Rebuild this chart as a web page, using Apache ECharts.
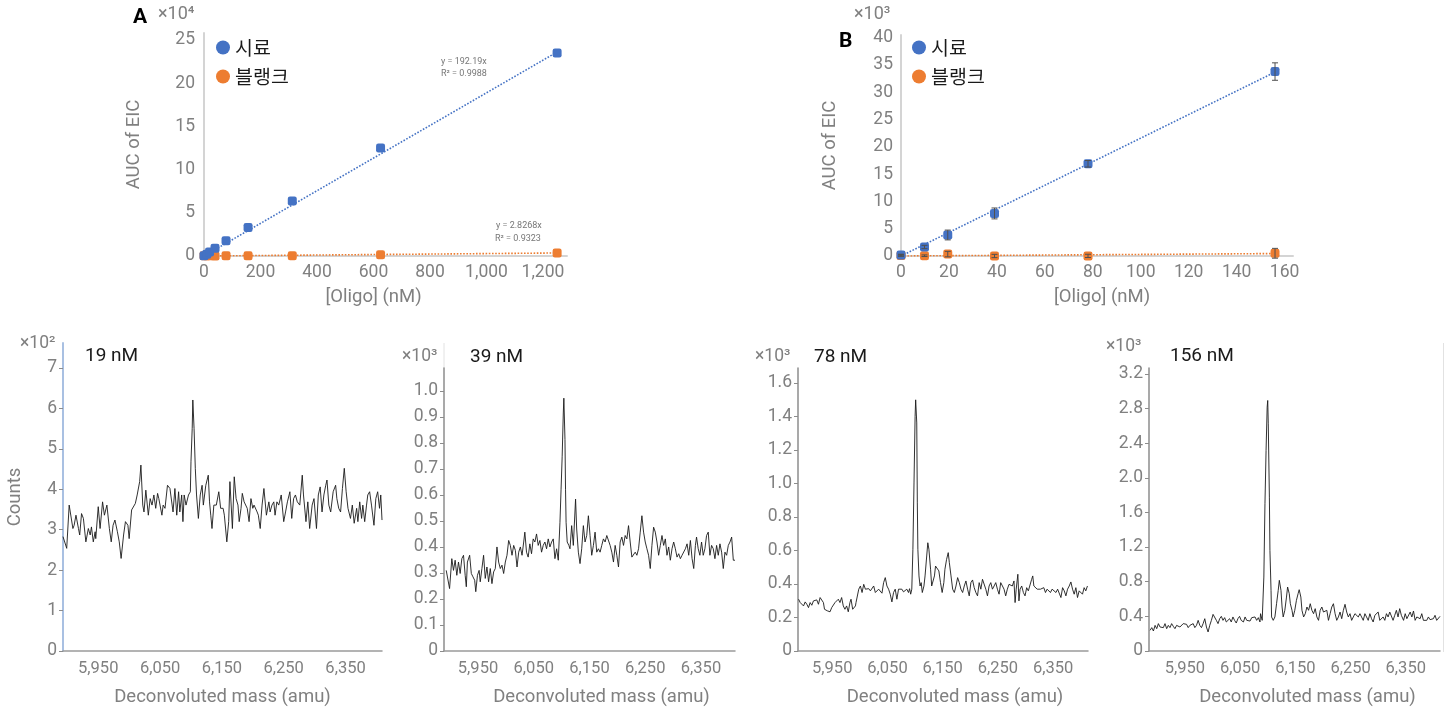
<!DOCTYPE html>
<html><head><meta charset="utf-8">
<script src="https://cdn.jsdelivr.net/npm/echarts@6/dist/echarts.min.js"></script>
<style>html,body{margin:0;padding:0;background:#fff}#c{width:1452px;height:708px}</style>
</head><body><div id="c"></div>
<script>
// ---------- Data ----------
const seriesNames = ['시료', '블랭크'];
// Panel A (x10^4)
const concA = [0, 9.8, 19.5, 39, 78, 156, 312.5, 625, 1250];
const sampleA = [0.02, 0.2, 0.45, 0.89, 1.75, 3.3, 6.35, 12.5, 23.5];
const sampleAerr = [0.02, 0.05, 0.05, 0.08, 0.1, 0.12, 0.15, 0.25, 0.2];
const blankA = [0.03, 0.02, 0.04, 0.01, 0.02, 0.02, 0.04, 0.15, 0.35];
const blankAerr = [0.02, 0.02, 0.02, 0.02, 0.02, 0.02, 0.03, 0.05, 0.06];
const trendAx = [0, 1250];
const trendAsample = [0, 23.6];
const trendAblank = [0, 0.35];
// Panel B (x10^3)
const concB = [0, 9.8, 19.5, 39, 78, 156];
const sampleB = [0.18, 1.65, 3.85, 7.8, 16.9, 33.8];
const sampleBerr = [0.15, 0.3, 0.9, 1.0, 0.6, 1.6];
const blankB = [0.1, 0.05, 0.35, 0.0, 0.02, 0.5];
const blankBerr = [0.15, 0.15, 0.5, 0.3, 0.3, 0.9];
const trendBx = [0, 156];
const trendBsample = [0, 33.7];
const trendBblank = [0, 0.45];
const xTicksSpec = [5950, 6050, 6150, 6250, 6350];
const specLabels = ['19 nM', '39 nM', '78 nM', '156 nM'];
// Spectra: [mass (amu), counts]
const spec19 = [[5893,2.83],[5899,2.54],[5903,3.61],[5909,3.03],[5911,3.11],[5914,3.36],[5918,3.03],[5920,2.87],[5923,3.40],[5926,3.28],[5930,2.70],[5934,3.03],[5937,2.87],[5939,3.07],[5942,2.70],[5945,2.95],[5946,2.78],[5950,3.57],[5953,3.03],[5957,3.69],[5960,3.36],[5964,3.61],[5968,3.03],[5971,2.70],[5974,3.11],[5977,3.24],[5981,2.95],[5984,2.70],[5987,2.29],[5991,2.87],[5994,3.20],[5998,3.11],[6000,2.78],[6004,3.49],[6010,3.65],[6013,3.86],[6017,4.19],[6019,4.60],[6022,3.61],[6024,3.44],[6027,3.98],[6031,3.36],[6034,3.77],[6037,3.61],[6040,3.86],[6043,3.53],[6046,3.90],[6048,3.77],[6053,3.36],[6055,3.61],[6058,3.53],[6062,4.10],[6066,4.02],[6071,3.44],[6074,4.02],[6077,3.36],[6080,3.94],[6082,3.44],[6085,3.86],[6087,3.20],[6089,3.86],[6092,3.61],[6096,3.86],[6099,3.94],[6100,4.68],[6102,5.51],[6103,6.21],[6105,5.51],[6107,4.52],[6109,3.86],[6112,3.28],[6115,3.86],[6118,4.10],[6120,3.61],[6124,4.10],[6128,4.35],[6130,3.69],[6132,3.36],[6134,3.03],[6137,3.61],[6141,3.61],[6145,3.94],[6148,3.53],[6152,3.53],[6154,3.36],[6158,2.70],[6161,3.20],[6163,4.19],[6167,3.03],[6170,4.31],[6173,3.77],[6176,3.61],[6178,3.20],[6181,3.53],[6183,3.90],[6186,3.69],[6189,3.69],[6191,3.53],[6194,3.20],[6197,3.77],[6200,3.53],[6202,3.61],[6207,3.44],[6209,3.36],[6212,3.03],[6215,3.61],[6218,4.02],[6222,3.36],[6226,3.69],[6228,3.44],[6231,3.61],[6234,3.69],[6236,3.36],[6239,3.69],[6242,3.61],[6246,3.86],[6250,3.20],[6253,3.44],[6256,3.69],[6260,3.94],[6263,3.28],[6266,3.77],[6269,3.86],[6272,3.69],[6276,3.61],[6280,4.35],[6282,3.86],[6286,3.20],[6289,3.69],[6292,3.03],[6296,3.61],[6299,3.77],[6303,3.03],[6306,3.86],[6309,4.06],[6312,3.44],[6315,3.86],[6318,4.10],[6320,4.23],[6323,3.61],[6326,3.44],[6330,3.94],[6334,4.10],[6336,3.77],[6339,3.53],[6342,3.44],[6345,4.02],[6348,4.52],[6351,3.94],[6354,3.53],[6358,3.28],[6361,3.61],[6364,3.16],[6368,3.53],[6370,3.20],[6373,3.69],[6376,3.28],[6378,3.61],[6381,3.20],[6384,3.61],[6386,3.86],[6389,3.94],[6392,3.61],[6396,3.11],[6399,3.77],[6402,3.94],[6405,3.53],[6407,3.86],[6409,3.24]];
const spec39 = [[5893,0.310],[5895,0.317],[5899,0.240],[5903,0.355],[5906,0.310],[5909,0.349],[5912,0.291],[5915,0.342],[5918,0.298],[5921,0.355],[5924,0.368],[5927,0.291],[5929,0.247],[5931,0.342],[5935,0.368],[5938,0.298],[5941,0.285],[5944,0.272],[5946,0.228],[5949,0.291],[5952,0.310],[5954,0.266],[5957,0.317],[5960,0.368],[5963,0.279],[5966,0.323],[5969,0.266],[5972,0.317],[5975,0.259],[5978,0.304],[5981,0.317],[5984,0.400],[5987,0.342],[5990,0.317],[5993,0.330],[5996,0.298],[5999,0.342],[6002,0.368],[6005,0.425],[6008,0.406],[6011,0.368],[6014,0.406],[6017,0.387],[6020,0.323],[6023,0.380],[6026,0.400],[6029,0.368],[6032,0.419],[6034,0.457],[6037,0.380],[6040,0.361],[6043,0.412],[6046,0.374],[6049,0.431],[6052,0.419],[6055,0.450],[6058,0.406],[6061,0.425],[6064,0.380],[6067,0.406],[6070,0.419],[6073,0.393],[6076,0.431],[6079,0.400],[6082,0.419],[6085,0.431],[6088,0.355],[6091,0.393],[6094,0.349],[6096,0.342],[6097,0.495],[6099,0.622],[6101,0.749],[6103,0.915],[6104,0.972],[6106,0.813],[6107,0.622],[6108,0.495],[6110,0.419],[6113,0.406],[6115,0.393],[6118,0.482],[6121,0.406],[6125,0.584],[6127,0.469],[6130,0.380],[6133,0.336],[6136,0.393],[6139,0.482],[6142,0.419],[6145,0.444],[6148,0.520],[6151,0.444],[6154,0.368],[6157,0.406],[6160,0.457],[6163,0.380],[6166,0.393],[6169,0.380],[6172,0.406],[6175,0.431],[6178,0.419],[6181,0.444],[6184,0.450],[6187,0.406],[6190,0.380],[6193,0.342],[6196,0.406],[6199,0.368],[6202,0.323],[6205,0.419],[6208,0.438],[6211,0.406],[6214,0.444],[6217,0.431],[6220,0.482],[6223,0.419],[6226,0.361],[6229,0.355],[6232,0.380],[6235,0.368],[6238,0.393],[6241,0.457],[6244,0.520],[6247,0.457],[6250,0.419],[6253,0.393],[6256,0.368],[6259,0.317],[6262,0.406],[6265,0.476],[6268,0.457],[6271,0.419],[6274,0.368],[6277,0.406],[6280,0.444],[6283,0.406],[6286,0.431],[6289,0.368],[6292,0.400],[6295,0.349],[6298,0.393],[6301,0.419],[6304,0.393],[6307,0.361],[6310,0.374],[6313,0.355],[6316,0.368],[6319,0.374],[6322,0.393],[6325,0.412],[6328,0.368],[6331,0.425],[6334,0.355],[6337,0.317],[6340,0.406],[6342,0.438],[6345,0.393],[6348,0.368],[6351,0.419],[6354,0.368],[6357,0.393],[6360,0.444],[6363,0.457],[6366,0.368],[6369,0.406],[6372,0.393],[6375,0.355],[6378,0.406],[6381,0.368],[6384,0.412],[6387,0.380],[6390,0.317],[6393,0.380],[6396,0.368],[6399,0.406],[6402,0.419],[6405,0.438],[6408,0.349],[6411,0.349]];
const spec78 = [[5889,0.309],[5892,0.289],[5895,0.299],[5898,0.269],[5901,0.293],[5904,0.279],[5907,0.259],[5910,0.289],[5913,0.273],[5916,0.299],[5919,0.289],[5922,0.305],[5925,0.279],[5928,0.319],[5931,0.329],[5934,0.289],[5936,0.249],[5938,0.259],[5941,0.240],[5943,0.249],[5946,0.234],[5949,0.259],[5952,0.249],[5955,0.289],[5958,0.279],[5961,0.309],[5964,0.289],[5967,0.319],[5970,0.269],[5973,0.249],[5976,0.269],[5979,0.234],[5982,0.289],[5984,0.309],[5987,0.249],[5989,0.240],[5992,0.269],[5993,0.289],[5995,0.289],[5998,0.369],[6001,0.388],[6004,0.349],[6007,0.398],[6010,0.369],[6013,0.363],[6016,0.372],[6019,0.359],[6022,0.369],[6025,0.388],[6028,0.349],[6031,0.339],[6034,0.369],[6037,0.378],[6040,0.345],[6043,0.408],[6046,0.438],[6049,0.388],[6052,0.369],[6055,0.339],[6058,0.293],[6061,0.349],[6064,0.369],[6067,0.309],[6070,0.369],[6073,0.359],[6076,0.369],[6079,0.353],[6082,0.359],[6085,0.369],[6088,0.349],[6090,0.372],[6092,0.339],[6094,0.369],[6096,0.607],[6098,1.003],[6100,1.400],[6101,1.499],[6103,1.361],[6104,0.884],[6105,0.607],[6107,0.448],[6109,0.388],[6111,0.408],[6113,0.349],[6116,0.388],[6118,0.448],[6121,0.567],[6123,0.646],[6125,0.607],[6128,0.488],[6130,0.388],[6133,0.388],[6135,0.448],[6137,0.507],[6140,0.517],[6143,0.478],[6146,0.408],[6149,0.349],[6152,0.408],[6154,0.488],[6157,0.547],[6160,0.587],[6162,0.527],[6165,0.448],[6168,0.369],[6171,0.349],[6174,0.388],[6177,0.438],[6180,0.408],[6183,0.369],[6186,0.349],[6189,0.388],[6192,0.418],[6195,0.369],[6198,0.329],[6201,0.408],[6204,0.424],[6207,0.378],[6210,0.349],[6213,0.329],[6216,0.408],[6219,0.369],[6222,0.428],[6225,0.418],[6228,0.369],[6231,0.329],[6234,0.388],[6237,0.408],[6240,0.369],[6243,0.388],[6246,0.408],[6249,0.369],[6252,0.339],[6255,0.408],[6258,0.418],[6261,0.369],[6264,0.329],[6267,0.369],[6270,0.398],[6273,0.408],[6276,0.388],[6279,0.418],[6281,0.289],[6283,0.369],[6286,0.458],[6288,0.299],[6290,0.369],[6293,0.388],[6296,0.349],[6299,0.329],[6302,0.378],[6305,0.359],[6308,0.349],[6311,0.428],[6313,0.448],[6315,0.388],[6318,0.398],[6321,0.369],[6324,0.378],[6327,0.369],[6330,0.359],[6333,0.378],[6336,0.349],[6339,0.369],[6342,0.378],[6345,0.349],[6348,0.369],[6351,0.378],[6355,0.349],[6358,0.369],[6361,0.378],[6364,0.319],[6367,0.378],[6370,0.359],[6373,0.329],[6376,0.369],[6379,0.388],[6382,0.412],[6385,0.369],[6388,0.339],[6391,0.378],[6394,0.319],[6397,0.359],[6400,0.369],[6403,0.339],[6406,0.378],[6409,0.359],[6412,0.388]];
const spec156 = [[5887,0.239],[5890,0.270],[5893,0.231],[5896,0.296],[5899,0.258],[5902,0.316],[5905,0.277],[5908,0.296],[5911,0.270],[5914,0.316],[5917,0.258],[5920,0.296],[5923,0.270],[5926,0.316],[5929,0.285],[5932,0.258],[5935,0.296],[5938,0.316],[5941,0.277],[5944,0.270],[5947,0.316],[5950,0.335],[5953,0.308],[5956,0.270],[5959,0.296],[5962,0.277],[5965,0.316],[5968,0.270],[5971,0.296],[5974,0.354],[5977,0.296],[5980,0.270],[5983,0.316],[5986,0.373],[5989,0.277],[5992,0.220],[5995,0.296],[5998,0.354],[6001,0.423],[6004,0.400],[6007,0.354],[6010,0.316],[6013,0.373],[6016,0.400],[6019,0.354],[6022,0.385],[6025,0.335],[6028,0.316],[6031,0.373],[6034,0.335],[6037,0.393],[6040,0.354],[6043,0.323],[6046,0.373],[6049,0.400],[6052,0.354],[6056,0.335],[6059,0.393],[6062,0.354],[6065,0.373],[6068,0.346],[6071,0.385],[6074,0.362],[6077,0.393],[6080,0.354],[6083,0.385],[6086,0.335],[6087,0.431],[6090,0.354],[6092,0.335],[6093,0.854],[6095,1.700],[6097,2.316],[6099,2.816],[6100,2.893],[6101,2.623],[6103,1.777],[6104,1.162],[6106,0.700],[6107,0.393],[6110,0.354],[6113,0.393],[6116,0.546],[6119,0.700],[6121,0.816],[6124,0.700],[6126,0.508],[6128,0.393],[6131,0.470],[6134,0.623],[6136,0.739],[6139,0.662],[6141,0.546],[6144,0.470],[6146,0.393],[6149,0.470],[6152,0.585],[6155,0.662],[6157,0.708],[6160,0.623],[6162,0.470],[6165,0.393],[6168,0.431],[6171,0.508],[6174,0.470],[6177,0.546],[6180,0.470],[6183,0.431],[6186,0.489],[6189,0.393],[6192,0.354],[6195,0.470],[6198,0.508],[6201,0.450],[6204,0.431],[6207,0.470],[6210,0.354],[6213,0.431],[6216,0.508],[6219,0.546],[6222,0.431],[6225,0.354],[6228,0.393],[6231,0.450],[6234,0.373],[6237,0.470],[6240,0.539],[6243,0.450],[6246,0.393],[6249,0.431],[6252,0.354],[6255,0.393],[6258,0.431],[6261,0.450],[6264,0.393],[6267,0.431],[6270,0.393],[6273,0.354],[6276,0.431],[6279,0.393],[6282,0.354],[6285,0.431],[6288,0.373],[6291,0.335],[6294,0.412],[6297,0.393],[6300,0.450],[6303,0.354],[6306,0.335],[6309,0.393],[6312,0.354],[6315,0.431],[6318,0.393],[6321,0.450],[6324,0.431],[6327,0.354],[6330,0.412],[6333,0.470],[6336,0.393],[6339,0.489],[6342,0.412],[6346,0.354],[6349,0.431],[6352,0.373],[6355,0.393],[6358,0.450],[6361,0.393],[6364,0.462],[6367,0.354],[6370,0.393],[6373,0.412],[6376,0.373],[6379,0.431],[6382,0.354],[6385,0.373],[6388,0.354],[6391,0.393],[6394,0.362],[6397,0.354],[6400,0.373],[6403,0.412],[6406,0.354],[6409,0.373],[6412,0.400]];

// ---------- Styling ----------
const FONT = 'Roboto, "Noto Sans", sans-serif';
const KFONT = '"Noto Sans CJK KR", Roboto, sans-serif';
const GREY = '#808080';
const BLUE = '#4472C4';
const ORANGE = '#ED7D31';
const comma = v => String(v).replace(/\B(?=(\d{3})+(?!\d))/g, ',');
const pairs = (xs, ys) => xs.map((x, i) => [x, ys[i]]);
const errData = (xs, ys, es) => xs.map((x, i) => [x, ys[i] - es[i], ys[i] + es[i]]);

function errRender(params, api) {
  const x = api.value(0);
  const p1 = api.coord([x, api.value(1)]);
  const p2 = api.coord([x, api.value(2)]);
  const w = 3;
  const st = { stroke: '#505050', lineWidth: 1 };
  return { type: 'group', children: [
    { type: 'line', shape: { x1: p1[0], y1: p1[1], x2: p2[0], y2: p2[1] }, style: st },
    { type: 'line', shape: { x1: p1[0] - w, y1: p1[1], x2: p1[0] + w, y2: p1[1] }, style: st },
    { type: 'line', shape: { x1: p2[0] - w, y1: p2[1], x2: p2[0] + w, y2: p2[1] }, style: st }
  ]};
}

const grids = [
  { left: 204, top: 33, width: 363, height: 223 },
  { left: 901, top: 35, width: 392, height: 221 },
  { left: 63, top: 343, width: 319, height: 308 },
  { left: 444, top: 368, width: 291, height: 285 },
  { left: 798, top: 368, width: 290, height: 284 },
  { left: 1149, top: 368, width: 291, height: 284 }
];

const topAxisLine = { show: true, lineStyle: { color: '#d4d4d4', width: 2 } };
const topLabel = { color: GREY, fontSize: 17.5, fontFamily: FONT };
const nameStyle = (pad) => ({ color: GREY, fontSize: 18.5, fontFamily: FONT, padding: pad || [0, 0, 0, 0] });

const xAxes = [
  { gridIndex: 0, type: 'value', min: 0, max: 1285, interval: 200,
    axisLine: topAxisLine, axisTick: { show: false }, splitLine: { show: false },
    axisLabel: Object.assign({ formatter: v => comma(v), showMaxLabel: false, margin: 8 }, topLabel),
    name: '[Oligo] (nM)', nameLocation: 'middle', nameGap: 32, nameTextStyle: nameStyle([0, 24, 0, 0]) },
  { gridIndex: 1, type: 'value', min: 0, max: 163.5, interval: 20,
    axisLine: topAxisLine, axisTick: { show: false }, splitLine: { show: false },
    axisLabel: Object.assign({ showMaxLabel: false, margin: 8 }, topLabel),
    name: '[Oligo] (nM)', nameLocation: 'middle', nameGap: 32, nameTextStyle: nameStyle([0, 0, 0, 10]) }
];
const yAxes = [
  { gridIndex: 0, type: 'value', min: 0, max: 25.8, interval: 5,
    axisLine: topAxisLine, axisTick: { show: false }, splitLine: { show: false },
    axisLabel: Object.assign({ showMaxLabel: false, margin: 9 }, topLabel),
    name: 'AUC of EIC', nameLocation: 'middle', nameGap: 42, nameTextStyle: nameStyle([0, 0, 18, 0]) },
  { gridIndex: 1, type: 'value', min: 0, max: 40.5, interval: 5,
    axisLine: topAxisLine, axisTick: { show: false }, splitLine: { show: false },
    axisLabel: Object.assign({ showMaxLabel: false, margin: 8 }, topLabel),
    name: 'AUC of EIC', nameLocation: 'middle', nameGap: 43, nameTextStyle: nameStyle([0, 0, 18, 0]) }
];

const specDefs = [
  { data: spec19, xmin: 5893, xmax: 6409, ymax: 7.62, interval: 1, dec: 0, yColor: '#a9c0e2', yW: 2, namePad: [0, 0, 0, 0] },
  { data: spec39, xmin: 5889, xmax: 6411, ymax: 1.088, interval: 0.1, dec: 1, yColor: '#8c8c8c', yW: 1.5, namePad: [0, 0, 0, 24] },
  { data: spec78, xmin: 5888, xmax: 6413, ymax: 1.689, interval: 0.2, dec: 1, yColor: '#8c8c8c', yW: 1.5, namePad: [0, 0, 0, 24] },
  { data: spec156, xmin: 5885, xmax: 6412, ymax: 3.268, interval: 0.4, dec: 1, yColor: '#8c8c8c', yW: 1.5, namePad: [0, 0, 0, 26] }
];

const series = [];
specDefs.forEach((d, i) => {
  const g = i + 2;
  xAxes.push({ gridIndex: g, type: 'value', min: d.xmin, max: d.xmax,
    axisLine: { show: true, onZero: false, lineStyle: { color: '#9a9a9a', width: 1.5 } },
    axisTick: { show: false }, splitLine: { show: false },
    axisLabel: { customValues: xTicksSpec, formatter: v => comma(v), color: GREY, fontSize: 16.5, fontFamily: FONT, margin: 9 },
    name: 'Deconvoluted mass (amu)', nameLocation: 'middle', nameGap: 37, nameTextStyle: nameStyle(d.namePad) });
  yAxes.push({ gridIndex: g, type: 'value', min: 0, max: d.ymax, interval: d.interval,
    axisLine: { show: true, lineStyle: { color: d.yColor, width: d.yW } },
    axisTick: { show: true, length: 4, lineStyle: { color: '#8c8c8c' } }, splitLine: { show: false },
    axisLabel: { showMaxLabel: false, color: GREY, fontSize: 17.5, fontFamily: FONT, margin: 6,
      formatter: v => (v === 0 ? '0' : v.toFixed(d.dec)) },
    name: i === 0 ? 'Counts' : '', nameLocation: 'middle', nameGap: 38, nameTextStyle: nameStyle() });
  series.push({ type: 'line', name: 'spectrum ' + specLabels[i], xAxisIndex: g, yAxisIndex: g,
    data: d.data, showSymbol: false, smooth: false,
    lineStyle: { color: '#1a1a1a', width: 0.9 }, silent: true });
});

// Calibration series
[[0, concA, sampleA, sampleAerr, blankA, blankAerr, trendAx, trendAsample, trendAblank, 2],
 [1, concB, sampleB, sampleBerr, blankB, blankBerr, trendBx, trendBsample, trendBblank, 6]].forEach(p => {
  const [g, xs, s, se, b, be, tx, ts, tb, ez] = p;
  series.push({ type: 'line', name: 'trend-s' + g, xAxisIndex: g, yAxisIndex: g, data: pairs(tx, ts),
    showSymbol: false, lineStyle: { color: BLUE, width: 1.6, type: 'dotted' }, z: 1, silent: true });
  series.push({ type: 'line', name: 'trend-b' + g, xAxisIndex: g, yAxisIndex: g, data: pairs(tx, tb),
    showSymbol: false, lineStyle: { color: ORANGE, width: 1.6, type: 'dotted' }, z: 1, silent: true });
  series.push({ type: 'scatter', name: seriesNames[1], xAxisIndex: g, yAxisIndex: g, data: pairs(xs, b),
    symbol: 'roundRect', symbolSize: 9, itemStyle: { color: ORANGE, opacity: 1 }, clip: false, z: 3 });
  series.push({ type: 'scatter', name: seriesNames[0], xAxisIndex: g, yAxisIndex: g, data: pairs(xs, s),
    symbol: 'roundRect', symbolSize: 9, itemStyle: { color: BLUE, opacity: 1 }, clip: false, z: 4 });
  series.push({ type: 'custom', name: 'err-b' + g, xAxisIndex: g, yAxisIndex: g, data: errData(xs, b, be),
    renderItem: errRender, z: ez, silent: true });
  series.push({ type: 'custom', name: 'err-s' + g, xAxisIndex: g, yAxisIndex: g, data: errData(xs, s, se),
    renderItem: errRender, z: ez, silent: true });
});

const legendCommon = { orient: 'vertical', data: seriesNames, icon: 'circle', itemWidth: 14, itemHeight: 14,
  itemGap: 8, textStyle: { fontSize: 19.5, color: '#1a1a1a', fontFamily: KFONT, lineHeight: 21 } };

const txt = (left, top, text, size, color, weight, family) => ({ type: 'text', left, top,
  style: { text, fontSize: size, fill: color, fontWeight: weight || 'normal', fontFamily: family || FONT } });

const graphic = [
  txt(133, 7, 'A', 21, '#000', 'bold'),
  txt(158, 5, '×10⁴', 18, GREY),
  txt(839, 31, 'B', 21, '#000', 'bold'),
  txt(854, 5, '×10³', 18, GREY),
  txt(441, 57, 'y = 192.19x', 9, '#777'),
  txt(441, 69, 'R² = 0.9988', 9, '#777'),
  txt(496, 221, 'y = 2.8268x', 9, '#777'),
  txt(495, 234, 'R² = 0.9323', 9, '#777'),
  txt(20, 335, '×10²', 17.5, GREY),
  txt(402, 348, '×10³', 17.5, GREY),
  txt(755, 348, '×10³', 17.5, GREY),
  txt(1106, 338, '×10³', 17.5, GREY),
  txt(85, 347, specLabels[0], 19, '#1a1a1a'),
  txt(470, 348, specLabels[1], 19, '#1a1a1a'),
  txt(814, 348, specLabels[2], 19, '#1a1a1a'),
  txt(1170, 347, specLabels[3], 19, '#1a1a1a'),
  { type: 'line', shape: { x1: 444, y1: 343, x2: 444, y2: 368 }, style: { stroke: '#e2e2e2', lineWidth: 1 } },
  { type: 'line', shape: { x1: 1443.5, y1: 343, x2: 1443.5, y2: 652 }, style: { stroke: '#e2e2e2', lineWidth: 1 } }
];

const chart = echarts.init(document.getElementById('c'), null, { renderer: 'canvas' });
chart.setOption({
  animation: false,
  backgroundColor: '#fff',
  grid: grids,
  xAxis: xAxes,
  yAxis: yAxes,
  legend: [
    Object.assign({ left: 211, top: 32 }, legendCommon),
    Object.assign({ left: 907, top: 32 }, legendCommon)
  ],
  graphic,
  series
});
</script>
</body></html>
